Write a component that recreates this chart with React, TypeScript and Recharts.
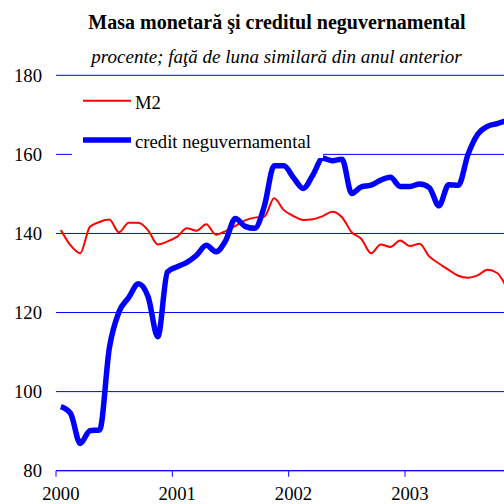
import { CartesianGrid, Legend, Line, LineChart, XAxis, YAxis } from "recharts";

// monthly values, Jan 2000 .. Nov 2003
const m2 = [
  140.9, 137.0, 135.0, 141.7, 142.9, 143.5, 140.3, 142.7, 142.7, 140.8, 137.2, 138.0,
  139.2, 141.3, 140.7, 142.3, 139.7, 140.6, 141.9, 143.3, 144.0, 144.3, 148.9, 145.9,
  144.4, 143.4, 143.6, 144.4, 145.5, 144.1, 140.3, 138.6, 135.0, 137.2, 136.6, 138.2,
  136.8, 137.4, 134.2, 132.4, 130.8, 129.3, 128.8, 129.4, 130.8, 130.0, 126.2,
];
const credit = [
  96.2, 94.5, 86.9, 90.1, 90.3, 111.0, 120.2, 123.8, 127.3, 124.0, 113.9, 130.3,
  131.6, 132.7, 134.5, 137.0, 135.4, 138.2, 143.8, 141.8, 141.3, 147.0, 157.1, 157.1,
  154.1, 151.4, 154.8, 159.0, 158.4, 158.8, 150.1, 151.8, 152.2, 153.5, 154.2, 151.9,
  151.9, 152.5, 151.6, 147.0, 152.3, 152.2, 160.0, 165.1, 167.1, 167.8, 168.6,
];
const yearTicks = [0, 12, 24, 36];
const yearLabels = ["2000", "2001", "2002", "2003"];
const valueTicks = [80, 100, 120, 140, 160, 180];

const data = m2.map((v, i) => ({ pos: i + 0.5, m2: v, credit: credit[i] }));

const FONT = "'Liberation Serif', 'Times New Roman', serif";
const HALF_MONTH = 448 / 46.21 / 2;

const YearTick = ({ x, y, payload }: any) => (
  <text
    x={x + HALF_MONTH}
    y={y}
    dy="0.71em"
    textAnchor="middle"
    fill="#000"
    fontSize={18.7}
    fontFamily={FONT}
  >
    {yearLabels[yearTicks.indexOf(payload.value)]}
  </text>
);

const LegendBox = ({ payload }: any) => (
  <svg width={251} height={76}>
    {(payload || []).map((p: any, i: number) => (
      <g key={p.value}>
        <line
          x1={11}
          x2={59}
          y1={18.7 + i * 39.3}
          y2={18.7 + i * 39.3}
          stroke={p.color}
          strokeWidth={i === 0 ? 2 : 5.5}
        />
        <text x={63} y={27 + i * 38.7} fontSize={18.7} fontFamily={FONT} fill="#000">
          {p.value}
        </text>
      </g>
    ))}
  </svg>
);

export default function App() {
  return (
    <div style={{ position: "absolute", left: 0, top: 0, width: 504, height: 504, background: "#fff" }}>
      <LineChart
        width={504}
        height={504}
        data={data}
        margin={{ top: 75.3, right: 0, bottom: 3.3, left: 0 }}
        style={{ fontFamily: FONT }}
      >
        <CartesianGrid vertical={false} stroke="#0000ff" />
        <XAxis
          type="number"
          dataKey="pos"
          domain={[0, 46.21]}
          allowDataOverflow
          ticks={yearTicks}
          interval={0}
          height={30}
          stroke="#0000ff"
          tickSize={6}
          tickMargin={10}
          tick={<YearTick />}
        />
        <YAxis
          domain={[80, 180]}
          ticks={valueTicks}
          interval={0}
          width={56}
          axisLine={false}
          tickLine={false}
          tickSize={6}
          tickMargin={8}
          tick={{ fill: "#000", fontSize: 18.7, fontFamily: FONT }}
        />
        <Legend
          layout="horizontal"
          verticalAlign="middle"
          align="center"
          wrapperStyle={{ left: 72, top: 82, width: 251, height: 76, background: "#fff" }}
          content={<LegendBox />}
        />
        <Line
          type="monotone"
          dataKey="m2"
          name="M2"
          stroke="#ff0000"
          strokeWidth={2}
          dot={false}
          isAnimationActive={false}
        />
        <Line
          type="monotone"
          dataKey="credit"
          name="credit neguvernamental"
          stroke="#0000ff"
          strokeWidth={5.5}
          dot={false}
          isAnimationActive={false}
        />
      </LineChart>
      <svg
        width={504}
        height={72}
        style={{ position: "absolute", left: 0, top: 0, pointerEvents: "none" }}
      >
        <text x={277} y={29.3} textAnchor="middle" fontSize={20} fontWeight="bold" fontFamily={FONT} fill="#000">
          Masa monetară şi creditul neguvernamental
        </text>
        <text x={276.5} y={63} textAnchor="middle" fontSize={19} fontStyle="italic" fontFamily={FONT} fill="#000">
          procente; faţă de luna similară din anul anterior
        </text>
      </svg>
    </div>
  );
}
